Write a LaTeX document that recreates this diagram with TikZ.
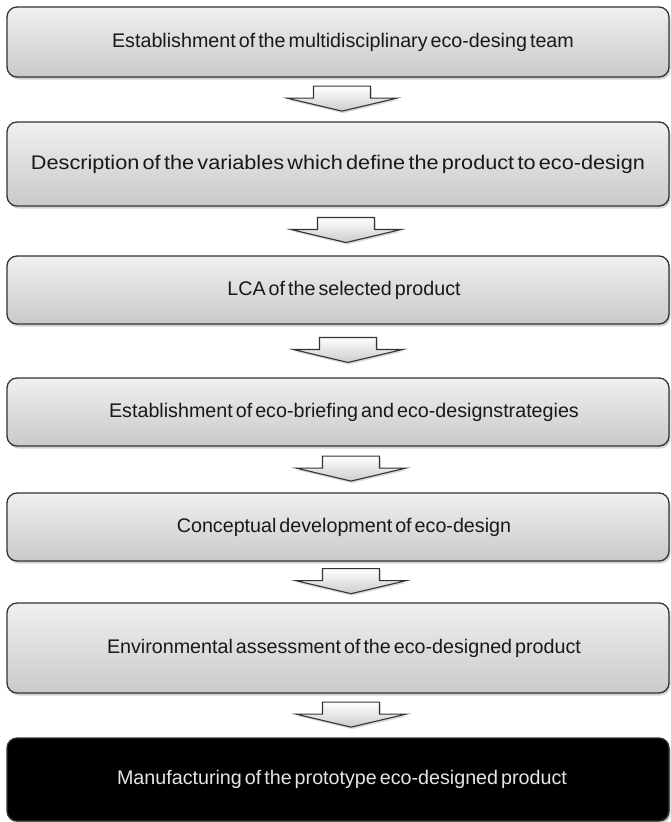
\documentclass[tikz,border=0pt]{standalone}
\usepackage{fontspec}
\setmainfont{Liberation Sans}[WordSpace=0.55]
\usetikzlibrary{calc,shadows}

\tikzset{
  stepbox/.style={draw=black!80, line width=1.3pt, rounded corners=10pt,
    top color=gray!12, bottom color=gray!42,
    minimum width=662pt, inner sep=0pt, text=black!90,
    font=\fontsize{19.7}{23}\selectfont,
    drop shadow={opacity=0.35, shadow xshift=1.5pt, shadow yshift=-2.5pt}},
  finalbox/.style={stepbox, fill=black, top color=black, bottom color=black,
    text=black!10, drop shadow={opacity=0.2, shadow xshift=1pt, shadow yshift=-1.5pt}},
  blockarrow/.style={draw=black!80, line width=1.1pt, line join=miter,
    top color=white, bottom color=gray!40,
    drop shadow={opacity=0.3, shadow xshift=1pt, shadow yshift=-2pt}}
}

% block arrow placed between two step boxes: #1 upper box, #2 lower box, #3 x offset
\newcommand\flowarrow[3]{%
  \path ($(#1.south)!0.48!(#2.north)+(#3,0)$) coordinate (m#1#2);
  \path[blockarrow, shift={(m#1#2)}]
    (-28.5,-12.5) -- (28.5,-12.5) -- (28.5,-0.5) -- (55,-0.5)
    -- (0,12.5) -- (-55,-0.5) -- (-28.5,-0.5) -- cycle;
}

\begin{document}
\begin{tikzpicture}[x=1pt,y=-1pt]
\useasboundingbox (0,0) rectangle (670,822);

% process steps
\node[stepbox, minimum height=70pt] (b1) at (338,42)
  {\hspace*{10pt}Establishment of the multidisciplinary eco-desing team};
\node[stepbox, minimum height=84pt] (b2) at (338,164)
  {\scalebox{1.1}[1]{Description of the variables which define the product to eco-design}};
\node[stepbox, minimum height=68pt] (b3) at (338,290)
  {\hspace*{12pt}LCA of the selected product};
\node[stepbox, minimum height=68pt] (b4) at (338,412)
  {\hspace*{12pt}Establishment of eco-briefing and eco-designstrategies};
\node[stepbox, minimum height=68pt] (b5) at (338,527)
  {\hspace*{12pt}Conceptual development of eco-design};
\node[stepbox, minimum height=90pt] (b6) at (338,648)
  {\hspace*{12pt}Environmental assessment of the eco-designed product};
\node[finalbox, minimum height=83pt] (b7) at (338,779.5)
  {\hspace*{8pt}Manufacturing of the prototype eco-designed product};

% block arrows between consecutive steps
\flowarrow{b1}{b2}{4}
\flowarrow{b2}{b3}{8}
\flowarrow{b3}{b4}{10}
\flowarrow{b4}{b5}{13}
\flowarrow{b5}{b6}{13}
\flowarrow{b6}{b7}{13}
\end{tikzpicture}
\end{document}
